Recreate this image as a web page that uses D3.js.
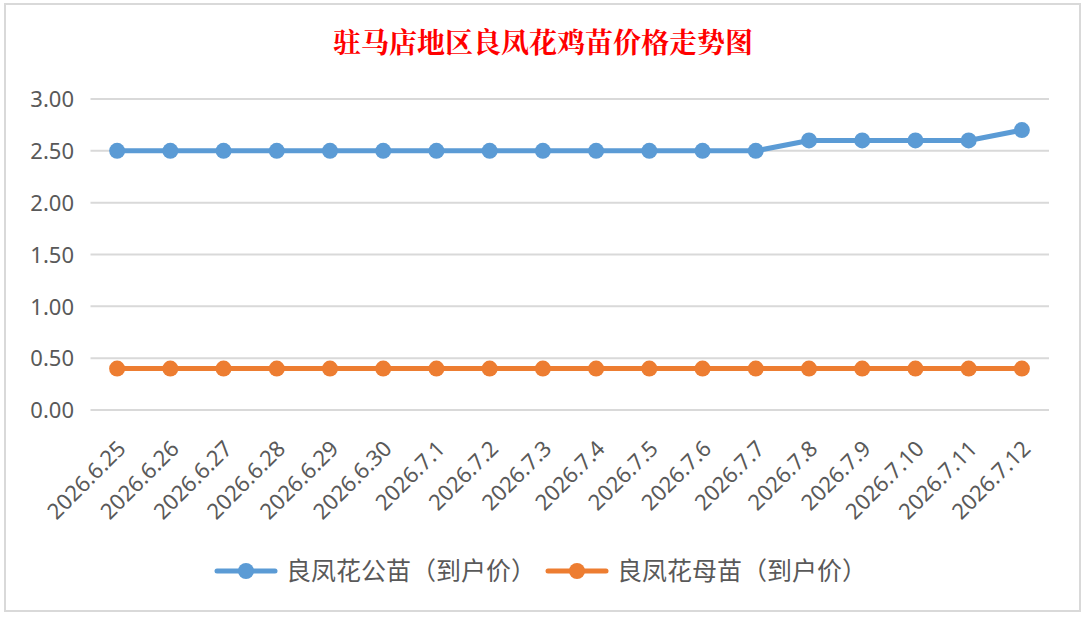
<!DOCTYPE html>
<html><head><meta charset="utf-8">
<script src="https://cdn.jsdelivr.net/npm/d3@7/dist/d3.min.js"></script>
<style>
html,body{margin:0;padding:0;background:#fff;}
svg{display:block;}
</style></head>
<body>
<svg id="c" width="1084" height="617"></svg>
<script>
const title = "驻马店地区良凤花鸡苗价格走势图";
const categories = ["2026.6.25","2026.6.26","2026.6.27","2026.6.28","2026.6.29","2026.6.30","2026.7.1","2026.7.2","2026.7.3","2026.7.4","2026.7.5","2026.7.6","2026.7.7","2026.7.8","2026.7.9","2026.7.10","2026.7.11","2026.7.12"];
const maleName = "良凤花公苗（到户价）";
const femaleName = "良凤花母苗（到户价）";
const maleValues = [2.5,2.5,2.5,2.5,2.5,2.5,2.5,2.5,2.5,2.5,2.5,2.5,2.5,2.6,2.6,2.6,2.6,2.7];
const femaleValues = [0.4,0.4,0.4,0.4,0.4,0.4,0.4,0.4,0.4,0.4,0.4,0.4,0.4,0.4,0.4,0.4,0.4,0.4];
const yTicks = [0,0.5,1,1.5,2,2.5,3];

const svg = d3.select("#c");
const font = "'Noto Sans','Noto Sans CJK SC',sans-serif";
const textColor = "#595959";

// chart frame
svg.append("rect").attr("x",5).attr("y",4).attr("width",1075).attr("height",607)
  .attr("fill","#fff").attr("stroke","#d9d9d9").attr("stroke-width",2);

const x = d3.scaleBand().domain(categories).range([90.5,1048.5]);
const y = d3.scaleLinear().domain([0,3]).range([410,99]);

// gridlines
svg.append("g").selectAll("line").data(yTicks).join("line")
  .attr("x1",90.5).attr("x2",1049).attr("y1",d=>y(d)).attr("y2",d=>y(d))
  .attr("stroke","#d9d9d9").attr("stroke-width",2);

// y axis labels
const yAxis = d3.axisLeft(y).tickValues(yTicks).tickFormat(d3.format(".2f")).tickSize(0).tickPadding(0);
const gy = svg.append("g").attr("transform","translate(74,0)").call(yAxis);
gy.select(".domain").remove();
gy.selectAll("text").attr("font-family",font).attr("font-size",22).attr("fill",textColor).attr("dy","0.35em");

// x axis labels
const xAxis = d3.axisBottom(x).tickSize(0).tickPadding(0);
const gx = svg.append("g").attr("transform","translate(0,410)").call(xAxis);
gx.select(".domain").remove();
gx.selectAll("text")
  .attr("font-family",font).attr("font-size",22).attr("fill",textColor)
  .attr("text-anchor","end").attr("dy",null).attr("y",0)
  .attr("transform","translate(10,40) rotate(-45)");

// lines
const cx = d => x(d) + x.bandwidth()/2;
function drawSeries(vals,color){
  const pts = categories.map((c,i)=>[cx(c), y(vals[i])]);
  svg.append("path").attr("d", d3.line()(pts)).attr("fill","none")
    .attr("stroke",color).attr("stroke-width",5).attr("stroke-linejoin","round").attr("stroke-linecap","round");
  svg.append("g").selectAll("circle").data(pts).join("circle")
    .attr("cx",d=>d[0]).attr("cy",d=>d[1]).attr("r",8).attr("fill",color);
}
drawSeries(maleValues,"#5b9bd5");
drawSeries(femaleValues,"#ed7d31");

// title
svg.append("text").attr("x",543).attr("y",53).attr("text-anchor","middle")
  .attr("font-family","'Noto Serif CJK SC','Noto Sans CJK SC',serif").attr("font-weight","bold")
  .attr("font-size",28).attr("fill","#ff0000").text(title);

// legend
const legend = [{name:maleName,color:"#5b9bd5",x:215},{name:femaleName,color:"#ed7d31",x:546}];
const lg = svg.append("g").selectAll("g").data(legend).join("g").attr("transform",d=>`translate(${d.x},571)`);
lg.append("line").attr("x1",2).attr("x2",60).attr("y1",0).attr("y2",0).attr("stroke",d=>d.color)
  .attr("stroke-width",5).attr("stroke-linecap","round");
lg.append("circle").attr("cx",31).attr("cy",0).attr("r",8).attr("fill",d=>d.color);
lg.append("text").attr("x",71).attr("y",0).attr("dy","0.35em").attr("font-family","'Noto Sans CJK SC',sans-serif")
  .attr("font-size",25).attr("fill",textColor).text(d=>d.name);
</script>
</body></html>
